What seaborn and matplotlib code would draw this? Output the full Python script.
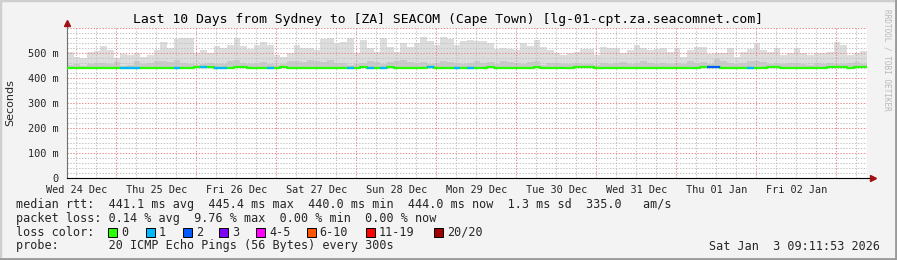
import matplotlib
matplotlib.use("Agg")
import numpy as np
import pandas as pd
import seaborn as sns
import matplotlib.pyplot as plt
import matplotlib.dates as mdates
from matplotlib.patches import Rectangle
from datetime import datetime, timedelta

# ---------------- data (2-hour bins, values in ms) ----------------
start_time = datetime(2025, 12, 24, 9, 11, 53)
bin_hours = 2

smoke_top = [
    503, 485, 481, 503, 508, 529, 512, 479, 495, 492, 499, 485, 492, 512, 543, 521, 556, 561, 559, 499,
    512, 499, 529, 521, 532, 559, 529, 516, 532, 543,
    532, 492, 485, 499, 532, 519, 521, 512, 556, 559, 539, 545, 561, 499, 552, 519, 505, 559, 525, 505,
    539, 525, 539, 565, 548, 532, 565, 556, 532, 548,
    552, 548, 548, 539, 516, 521, 516, 512, 539, 529, 552, 525, 512, 499, 492, 499, 505, 516, 516, 492,
    525, 519, 519, 499, 512, 532, 521, 512, 516, 519,
    505, 521, 485, 512, 525, 525, 495, 499, 499, 519, 485, 505, 516, 539, 512, 505, 521, 492, 499, 519,
    499, 492, 499, 499, 505, 545, 532, 492, 499, 508,
]

smoke_mid = [
    452, 455, 450, 458, 460, 462, 458, 466, 450, 452, 470, 455, 462, 468, 470, 466, 472, 460, 458, 452,
    455, 462, 458, 456, 470, 472, 462, 458, 460, 465,
    456, 452, 458, 468, 470, 465, 472, 470, 466, 474, 462, 460, 452, 458, 462, 470, 466, 458, 465, 470,
    472, 465, 460, 466, 458, 462, 470, 466, 460, 458,
    462, 468, 460, 466, 458, 470, 465, 462, 458, 466, 470, 452, 460, 462, 455, 458, 462, 458, 455, 452,
    460, 458, 462, 465, 458, 460, 468, 462, 458, 460,
    458, 462, 455, 468, 460, 465, 458, 475, 470, 462, 455, 460, 468, 470, 466, 458, 462, 455, 460, 462,
    458, 452, 460, 458, 462, 458, 455, 460, 465, 458,
]

median_rtt = [
    441, 441, 441, 441, 441, 441, 441, 441, 441, 441, 441, 441, 441, 441, 441, 441, 441, 441, 441, 445,
    445, 445, 441, 441, 441, 444, 444, 441, 441, 441,
    441, 441, 445, 441, 441, 441, 441, 441, 441, 441, 441, 441, 441, 441, 445, 441, 441, 441, 445, 441,
    441, 441, 441, 441, 445, 441, 441, 441, 441, 441,
    441, 441, 441, 444, 441, 441, 441, 441, 441, 441, 443, 441, 441, 441, 441, 441, 445, 445, 445, 441,
    441, 441, 441, 441, 441, 441, 441, 441, 441, 441,
    441, 441, 441, 441, 441, 444, 445, 445, 441, 441, 441, 441, 441, 441, 441, 444, 444, 441, 441, 441,
    441, 441, 441, 441, 445, 445, 445, 441, 445, 445,
]

loss_count = [
    0, 0, 0, 0, 0, 0, 0, 0, 1, 1, 1, 0, 0, 0, 0, 0, 1, 0, 0, 0,
    1, 0, 1, 1, 0, 0, 0, 0, 0, 0,
    1, 0, 0, 0, 0, 0, 0, 0, 0, 0, 0, 0, 1, 0, 0, 1, 0, 1, 0, 0,
    0, 0, 0, 0, 1, 0, 0, 0, 1, 0,
    1, 0, 0, 0, 0, 0, 0, 0, 0, 0, 0, 0, 0, 0, 0, 0, 0, 0, 0, 0,
    0, 0, 0, 0, 0, 0, 0, 0, 0, 0,
    0, 0, 0, 0, 0, 0, 2, 2, 0, 0, 0, 0, 1, 0, 0, 0, 0, 0, 0, 0,
    0, 0, 0, 0, 0, 0, 0, 0, 0, 0,
]

loss_labels = ["0", "1", "2", "3", "4-5", "6-10", "11-19", "20/20"]
loss_colors = ["#26ff00", "#00b8ff", "#0059ff", "#7e00ff", "#ff00ff", "#ff5500", "#ff0000", "#a10000"]

title = "Last 10 Days from Sydney to [ZA] SEACOM (Cape Town) [lg-01-cpt.za.seacomnet.com]"
stats_lines = [
    "median rtt:  441.1 ms avg  445.4 ms max  440.0 ms min  444.0 ms now  1.3 ms sd  335.0   am/s",
    "packet loss: 0.14 % avg  9.76 % max  0.00 % min  0.00 % now",
]
probe_line = "probe:       20 ICMP Echo Pings (56 Bytes) every 300s"
date_text = "Sat Jan  3 09:11:53 2026"

# ---------------- figure ----------------
sns.set_style("white")
plt.rcParams["font.family"] = ["DejaVu Sans Mono", "DejaVu Sans"]

W, H = 897, 260
fig = plt.figure(figsize=(W / 100, H / 100), dpi=100, facecolor="#f3f3f3")

def fx(px):
    return px / W

def fy(py):
    return 1 - py / H

ax = fig.add_axes([fx(67), fy(178), fx(800), 150 / H])
ax.set_facecolor("white")

n = len(smoke_top)
edges = [start_time + timedelta(hours=bin_hours * i) for i in range(n + 1)]
xe = mdates.date2num(edges)
end_time = edges[-1]

top_e = np.array(smoke_top + [smoke_top[-1]], dtype=float)
mid_e = np.array(smoke_mid + [smoke_mid[-1]], dtype=float)
base = np.full(n + 1, 439.0)

ax.set_xlim(xe[0], xe[-1])
ax.set_ylim(0, 600)

# smoke
ax.fill_between(xe, base, top_e, step="post", color="#dddddd", lw=0, zorder=1)
ax.fill_between(xe, base, mid_e, step="post", color="#cacaca", lw=0, zorder=1)

# grid (over the smoke, under the median line)
gray = "#c2c2c2"
red = "#e48c8c"
dots = (0, (1.3, 1.5))
t = datetime(2025, 12, 24, 12, 0)
while t < end_time:
    c = red if t.hour == 0 else gray
    ax.axvline(mdates.date2num(t), color=c, lw=0.75, ls=dots, zorder=2)
    t += timedelta(hours=6)
for v in range(20, 601, 20):
    c = red if v % 100 == 0 else gray
    ax.axhline(v, color=c, lw=0.75, ls=dots, zorder=2)

# median line (green) then loss-coloured segments
df = pd.DataFrame({"time": edges, "median": median_rtt + [median_rtt[-1]]})
sns.lineplot(data=df, x="time", y="median", ax=ax, drawstyle="steps-post",
             color=loss_colors[0], lw=1.6, zorder=3)
for i in range(n):
    lc = loss_count[i]
    if lc > 0:
        idx = 1 if lc == 1 else 2 if lc == 2 else 3 if lc == 3 else 4 if lc <= 5 else 5 if lc <= 10 else 6 if lc < 20 else 7
        ax.hlines(median_rtt[i], xe[i], xe[i + 1], color=loss_colors[idx], lw=1.6, zorder=4)

ax.set_xlabel("")
ax.set_ylabel("")

# ticks
days = [datetime(2025, 12, 24, 12) + timedelta(days=d) for d in range(10)]
days = [d for d in days if d < end_time]
ax.set_xticks(mdates.date2num(days))
ax.set_xticklabels([d.strftime("%a %d %b") for d in days], fontsize=7.4)
ax.tick_params(axis="x", length=0, pad=5)
yt = [0, 100, 200, 300, 400, 500]
ax.set_yticks(yt)
ax.set_yticklabels(["0"] + [f"{v} m" for v in yt[1:]], fontsize=7.4)
ax.tick_params(axis="y", length=3, width=0.7, color="#808080", pad=3)

for s in ["top", "right"]:
    ax.spines[s].set_visible(False)
ax.spines["left"].set_color("#707070")
ax.spines["left"].set_linewidth(0.8)
ax.spines["left"].set_bounds(0, 612)
ax.spines["bottom"].set_color("black")
ax.spines["bottom"].set_linewidth(0.8)
ax.spines["bottom"].set_bounds(xe[0], xe[-1] + (xe[-1] - xe[0]) * 0.006)

# arrows
ax.plot([0], [1.035], marker="^", color="#a01010", ms=4, transform=ax.transAxes, clip_on=False, zorder=6)
ax.plot([1.007], [0], marker=">", color="#a01010", ms=4, transform=ax.transAxes, clip_on=False, zorder=6)

# texts
fig.text(fx(448), fy(19), title, ha="center", va="center", fontsize=9.45, color="black")
fig.text(fx(10), fy(103), "Seconds", rotation=90, ha="center", va="center", fontsize=8,
         family="DejaVu Sans")
fig.text(fx(887), fy(60), "RRDTOOL / TOBI OETIKER", rotation=270, ha="center", va="center",
         fontsize=5.6, color="#b8b8b8")

lfs = 8.5
fig.text(fx(15.5), fy(204.3), stats_lines[0], ha="left", va="center", fontsize=lfs)
fig.text(fx(15.5), fy(218.3), stats_lines[1], ha="left", va="center", fontsize=lfs)
fig.text(fx(15.5), fy(232.3), "loss color:", ha="left", va="center", fontsize=lfs)
box_x = [108.3, 145.7, 182.7, 219.3, 256.0, 306.7, 366.0, 434.3]
for bx, lab, col in zip(box_x, loss_labels, loss_colors):
    fig.patches.append(Rectangle((fx(bx), fy(237)), fx(9), 9.5 / H, transform=fig.transFigure,
                                 facecolor=col, edgecolor="black", lw=0.7))
    fig.text(fx(bx + 13), fy(232.3), lab, ha="left", va="center", fontsize=lfs)
fig.text(fx(15.5), fy(246), probe_line, ha="left", va="center", fontsize=lfs)
fig.text(fx(880), fy(246), date_text, ha="right", va="center", fontsize=lfs)

# 3D-like border
fig.patches.append(Rectangle((0, 0), 1, 1, transform=fig.transFigure, fill=False,
                             edgecolor="#cfcfcf", lw=2.5))
fig.add_artist(plt.Line2D([fx(W - 1.5), fx(W - 1.5)], [0, 1], transform=fig.transFigure,
                          color="#9a9a9a", lw=2))
fig.add_artist(plt.Line2D([0, 1], [fy(H - 1.5), fy(H - 1.5)], transform=fig.transFigure,
                          color="#9a9a9a", lw=2))

fig.savefig("out.png", dpi=100, facecolor=fig.get_facecolor())
